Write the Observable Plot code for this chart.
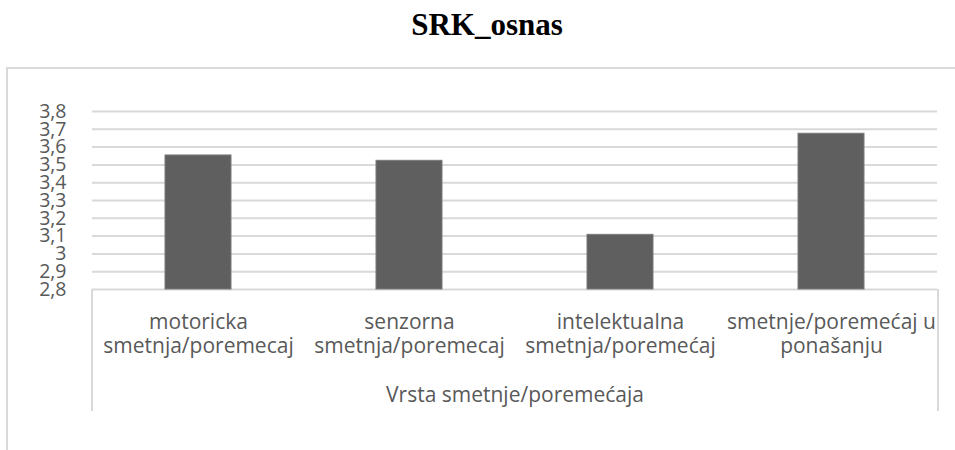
<!DOCTYPE html>
<html>
<head>
<meta charset="utf-8">
<script src="https://cdn.jsdelivr.net/npm/d3@7"></script>
<script src="https://cdn.jsdelivr.net/npm/@observablehq/plot@0.6"></script>
<style>
  body { margin: 0; background: #fff; width: 955px; height: 450px; position: relative; overflow: hidden; }
  #title { position: absolute; left: 19px; top: 9px; width: 936px; text-align: center;
           font: bold 31px/31px "Liberation Serif", "Times New Roman", serif; color: #000; }
  #outer { position: absolute; left: 6px; top: 67px; width: 960px; height: 420px;
           border-top: 2px solid #d9d9d9; border-left: 2px solid #d9d9d9; }
  #chart { position: absolute; left: 0; top: 68px; }
  #cattable { position: absolute; left: 91px; top: 289px; height: 122px; width: 848px; box-sizing: border-box;
              border-left: 2px solid #d9d9d9; border-right: 2px solid #d9d9d9; }
</style>
</head>
<body>
<div id="outer"></div>
<div id="title">SRK_osnas</div>
<div id="cattable"></div>
<div id="chart"></div>
<script>
const categories = [
  "motoricka smetnja/poremecaj",
  "senzorna smetnja/poremecaj",
  "intelektualna smetnja/poremećaj",
  "smetnje/poremećaj u ponašanju"
];
const tickLabels = [
  "motoricka\nsmetnja/poremecaj",
  "senzorna\nsmetnja/poremecaj",
  "intelektualna\nsmetnja/poremećaj",
  "smetnje/poremećaj u\nponašanju"
];
const values = [3.553, 3.523, 3.107, 3.675];
const yTicks = [2.8, 2.9, 3.0, 3.1, 3.2, 3.3, 3.4, 3.5, 3.6, 3.7, 3.8];
const yTickLabels = ["2,8", "2,9", "3", "3,1", "3,2", "3,3", "3,4", "3,5", "3,6", "3,7", "3,8"];
const axisTitle = "Vrsta smetnje/poremećaja";

const data = categories.map((c, i) => ({category: c, value: values[i]}));
const labelOf = new Map(categories.map((c, i) => [c, tickLabels[i]]));
const yLabelOf = new Map(yTicks.map((t, i) => [t, yTickLabels[i]]));

const font = "'Open Sans', sans-serif";
const textColor = "#595959";

const chart = Plot.plot({
  width: 955,
  height: 382,
  marginLeft: 92,
  marginRight: 18,
  marginTop: 43,
  marginBottom: 161,
  style: {fontFamily: font, color: textColor, background: "transparent", overflow: "visible"},
  x: {domain: categories, paddingInner: 0.685, paddingOuter: 0.3425},
  y: {domain: [yTicks[0], yTicks[yTicks.length - 1]]},
  marks: [
    Plot.ruleY(yTicks, {y: d => d, stroke: "#d9d9d9", strokeWidth: 2}),
    Plot.barY(data, {x: "category", y1: yTicks[0], y2: "value", fill: "#5f5f5f", stroke: "#7a7a7a", strokeWidth: 1}),
    Plot.axisY(yTicks, {tickSize: 0, tickPadding: 26, tickFormat: d => yLabelOf.get(d), fontSize: 19.5, fill: textColor, label: null}),
    Plot.axisX({tickSize: 0, tickPadding: 22, tickFormat: d => labelOf.get(d), fontSize: 21, lineHeight: 1.15, fill: textColor, label: null}),
    Plot.text([axisTitle], {text: d => d, frameAnchor: "bottom", lineAnchor: "top", dy: 98, fontSize: 21, fill: textColor})
  ]
});
document.getElementById("chart").appendChild(chart);
</script>
</body>
</html>
